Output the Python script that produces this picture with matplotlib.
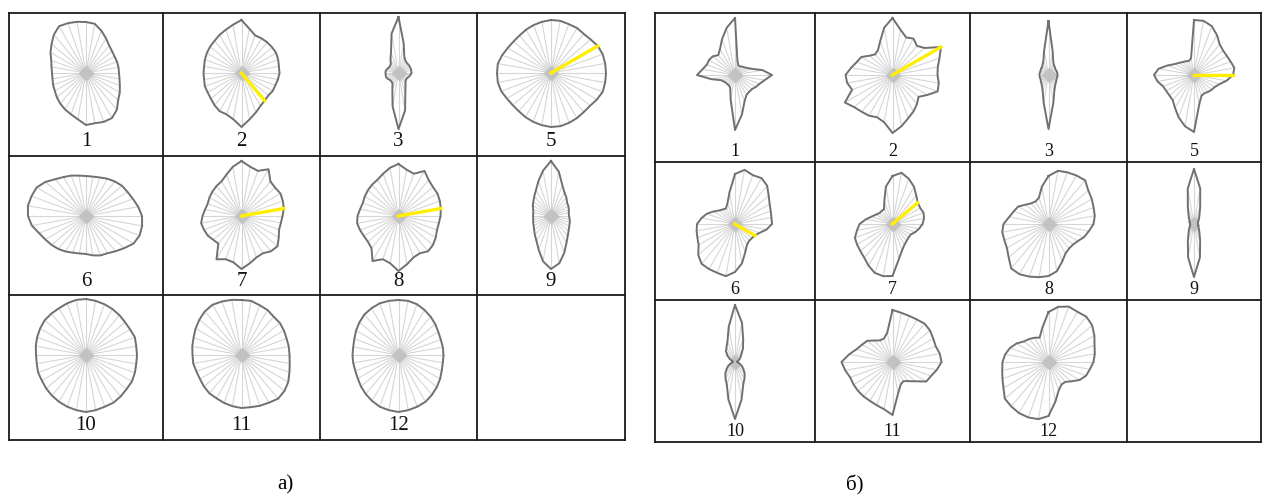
import numpy as np
import matplotlib
matplotlib.use("Agg")
import matplotlib.pyplot as plt

# azimuths of the rose sectors, clockwise from north (deg)
directions = list(range(0, 360, 10))

labels = ["1", "2", "3", "5", "6", "7", "8", "9", "10", "11", "12"]

# panel a) radii (px) per direction
a1 = [51, 50, 45, 40, 36, 34, 33, 33, 33, 33, 34, 36, 39, 42, 48, 52, 52, 51,
      52, 47, 44, 42, 40, 38, 36, 35, 34, 34, 35, 37, 41, 45, 50, 54, 53, 52]
a2 = [53, 45, 40, 40, 40, 40, 40, 39, 38, 38, 37, 36, 36, 35, 36, 38, 42, 47,
      54, 47, 44, 44, 42, 40, 39, 39, 38, 38, 38, 39, 40, 41, 42, 44, 46, 49]
a3 = [56, 30, 17, 14, 13, 13, 13, 13, 13, 13, 12, 11, 10, 10, 11, 14, 20, 38,
      56, 34, 18, 12, 11, 11, 12, 13, 13, 13, 13, 12, 11, 11, 12, 16, 22, 40]
a5 = [53, 53, 52, 52, 51, 52, 54, 55, 55, 55, 55, 55, 53, 51, 51, 52, 53, 54,
      54, 53, 52, 51, 50, 50, 51, 53, 54, 54, 54, 52, 50, 49, 49, 50, 51, 52]
a6 = [40, 40, 41, 43, 45, 47, 48, 50, 53, 56, 57, 57, 55, 50, 46, 43, 42, 40,
      38, 38, 39, 41, 43, 45, 47, 50, 55, 58, 59, 58, 57, 53, 48, 45, 43, 41]
a7 = [55, 50, 48, 54, 45, 44, 45, 44, 43, 41, 40, 40, 43, 47, 46, 43, 44, 48,
      53, 47, 46, 50, 36, 37, 39, 40, 41, 39, 37, 36, 37, 38, 39, 40, 44, 50]
a8 = [52, 47, 45, 52, 47, 45, 45, 44, 43, 42, 41, 41, 43, 45, 46, 43, 44, 49,
      55, 48, 46, 52, 42, 40, 40, 41, 42, 41, 39, 38, 39, 40, 41, 42, 45, 49]
a9 = [55, 45, 33, 27, 24, 21, 20, 19, 18, 18, 19, 20, 21, 23, 26, 31, 39, 48,
      53, 46, 36, 29, 25, 22, 20, 19, 18, 18, 18, 19, 21, 23, 26, 30, 37, 46]
a10 = [56, 55, 54, 53, 52, 51, 51, 52, 51, 51, 51, 52, 53, 53, 54, 55, 55, 56,
       57, 56, 55, 54, 53, 52, 51, 51, 50, 50, 51, 52, 53, 54, 54, 54, 55, 56]
a11 = [55, 55, 53, 52, 50, 50, 49, 48, 48, 48, 49, 51, 54, 56, 57, 55, 54, 53,
       53, 52, 51, 50, 50, 49, 48, 48, 49, 49, 50, 51, 53, 55, 57, 58, 57, 56]
a12 = [55, 55, 54, 52, 50, 48, 46, 45, 45, 45, 45, 46, 48, 50, 52, 54, 55, 56,
       57, 56, 55, 53, 51, 49, 47, 46, 46, 46, 46, 47, 49, 51, 53, 54, 55, 55]
a_yellow = {"2": 140, "5": 60, "7": 80, "8": 80}

# panel b) radii (px) per direction
b1 = [57, 14, 10, 10, 11, 12, 14, 18, 28, 37, 30, 26, 24, 22, 22, 23, 28, 40,
      55, 25, 14, 12, 12, 12, 13, 15, 24, 38, 33, 30, 30, 29, 26, 30, 38, 48]
b2 = [57, 46, 40, 42, 38, 42, 56, 50, 46, 45, 47, 48, 40, 34, 38, 42, 46, 52,
      58, 48, 45, 47, 48, 50, 55, 43, 46, 47, 42, 38, 36, 30, 27, 29, 36, 48]
b3 = [54, 24, 14, 11, 10, 9, 9, 9, 9, 9, 9, 9, 9, 10, 11, 13, 17, 28,
      54, 28, 17, 13, 11, 10, 9, 9, 9, 9, 9, 9, 9, 10, 10, 12, 15, 25]
b5 = [55, 55, 52, 46, 40, 38, 38, 39, 41, 39, 33, 27, 24, 23, 22, 21, 22, 30,
      57, 52, 45, 38, 33, 32, 32, 33, 37, 40, 36, 28, 22, 19, 17, 16, 15, 17]
b6 = [50, 55, 52, 53, 50, 44, 40, 38, 37, 37, 32, 26, 23, 22, 22, 24, 30, 40,
      48, 53, 52, 52, 52, 48, 42, 40, 39, 38, 34, 30, 25, 21, 19, 18, 22, 32]
b7 = [48, 52, 48, 43, 37, 33, 32, 33, 32, 30, 27, 24, 21, 21, 22, 24, 28, 36,
      52, 53, 52, 48, 44, 42, 41, 40, 36, 33, 27, 22, 19, 17, 17, 17, 24, 38]
b8 = [48, 54, 55, 56, 57, 52, 50, 48, 47, 45, 41, 38, 34, 32, 32, 34, 40, 48,
      52, 54, 56, 58, 58, 52, 48, 47, 47, 45, 40, 37, 35, 30, 27, 26, 28, 38]
b9 = [55, 36, 18, 11, 8, 6, 5, 4, 4, 4, 4, 5, 5, 6, 8, 11, 18, 34,
      53, 34, 18, 11, 8, 6, 5, 4, 4, 4, 4, 5, 5, 6, 8, 11, 18, 36]
b10 = [57, 40, 24, 16, 10, 7, 5, 3, 2, 2, 3, 5, 8, 11, 15, 19, 24, 38,
       57, 38, 24, 19, 15, 11, 8, 5, 3, 2, 2, 3, 6, 10, 14, 17, 22, 36]
b11 = [52, 50, 49, 49, 50, 49, 47, 46, 48, 49, 45, 41, 39, 30, 25, 22, 24, 32,
       53, 48, 46, 45, 45, 45, 45, 45, 48, 51, 44, 38, 35, 33, 28, 25, 25, 30]
b12 = [50, 56, 59, 58, 59, 57, 53, 49, 47, 45, 42, 40, 36, 30, 26, 26, 30, 40,
       54, 58, 59, 59, 58, 57, 52, 49, 47, 46, 44, 41, 37, 32, 30, 28, 26, 35]
b_yellow = {"2": 60, "5": 90, "6": 120, "7": 50}

W, H = 1263, 499
fig = plt.figure(figsize=(W / 100, H / 100), dpi=100)
bg = fig.add_axes([0, 0, 1, 1])
bg.set_xlim(0, W)
bg.set_ylim(H, 0)
bg.axis("off")

serif = "Liberation Serif"


def draw_panel(xs, ys, radii, yellow, cy_off, lab_off, fs):
    # table grid
    for x in xs:
        bg.plot([x, x], [ys[0], ys[-1]], color="#1a1a1a", lw=1.3)
    for y in ys:
        bg.plot([xs[0], xs[-1]], [y, y], color="#1a1a1a", lw=1.3)
    R = 62
    th = np.deg2rad(directions)
    for i, (lab, r) in enumerate(zip(labels, radii)):
        row, col = divmod(i, 4)
        cx = (xs[col] + xs[col + 1]) / 2
        cy = ys[row] + cy_off
        ax = fig.add_axes([(cx - R) / W, 1 - (cy + R) / H, 2 * R / W, 2 * R / H],
                          projection="polar")
        ax.set_theta_zero_location("N")
        ax.set_theta_direction(-1)
        ax.set_ylim(0, R)
        ax.axis("off")
        ax.patch.set_alpha(0)
        rr = np.array(r, dtype=float)
        tt = np.append(th, th[0])
        rc = np.append(rr, rr[0])
        poly = ax.fill(tt, rc, facecolor="white", edgecolor="none", zorder=1)[0]
        for t, v in zip(th, rr):
            ax.plot([t, t], [0, v], color="#d6d6d6", lw=0.8, zorder=2)
        # spokes converge into a grey blot at the centre
        dot, = ax.plot(0, 0, marker="D", ms=8, color="#c2c2c2", mec="none", zorder=3)
        dot.set_clip_path(poly)
        ax.plot(tt, rc, color="#707070", lw=1.4, zorder=4)
        if lab in yellow:
            t = np.deg2rad(yellow[lab])
            v = rr[directions.index(yellow[lab])]
            ax.plot([t, t], [0, v], color="#ffee00", lw=2.4, zorder=5)
        bg.text(cx, ys[row + 1] - lab_off, lab, ha="center", va="center",
                fontsize=fs, family=serif, color="#111111")


draw_panel([9, 163, 320, 477, 625], [13, 156, 295, 440],
           [a1, a2, a3, a5, a6, a7, a8, a9, a10, a11, a12], a_yellow, 60, 14, 15)
draw_panel([655, 815, 970, 1127, 1261], [13, 162, 300, 442],
           [b1, b2, b3, b5, b6, b7, b8, b9, b10, b11, b12], b_yellow, 62, 11, 13)

bg.text(285, 485, "а)", ha="center", va="center", fontsize=15, family=serif)
bg.text(855, 485, "б)", ha="center", va="center", fontsize=15, family=serif)

fig.savefig("out.png", dpi=100)
